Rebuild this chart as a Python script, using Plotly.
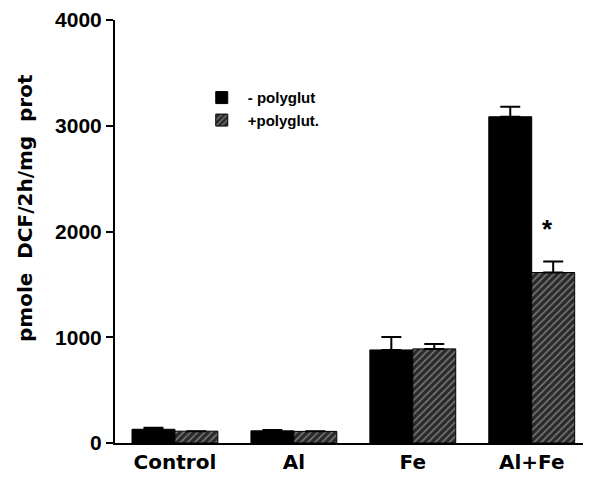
import plotly.graph_objects as go

categories = ["Control", "Al", "Fe", "Al+Fe"]
minus_poly = [130, 115, 880, 3085]
minus_poly_err = [15, 8, 122, 95]
plus_poly = [112, 110, 890, 1612]
plus_poly_err = [0, 0, 45, 105]
series_names = ["- polyglut", "+polyglut."]
y_ticks = [0, 1000, 2000, 3000, 4000]

fig = go.Figure()
fig.add_trace(go.Bar(
    x=categories, y=minus_poly, name=series_names[0],
    marker=dict(color="black", line=dict(color="black", width=1)),
    error_y=dict(type="data", symmetric=False, array=minus_poly_err,
                 arrayminus=[0] * 4, color="black", thickness=2, width=10),
))
fig.add_trace(go.Bar(
    x=categories, y=plus_poly, name=series_names[1],
    marker=dict(color="#3a3a3a", line=dict(color="black", width=1),
                pattern=dict(shape="/", fgcolor="#c8c8c8", bgcolor="#2a2a2a",
                             size=5, solidity=0.3)),
    error_y=dict(type="data", symmetric=False, array=plus_poly_err,
                 arrayminus=[0] * 4, color="black", thickness=2, width=10),
))

fig.add_annotation(x=3.13, y=2020, xref="x", yref="y", text="*", showarrow=False,
                   font=dict(family="Liberation Sans", size=26, color="black", weight="bold"))

# y-axis title placed as rotated annotation
fig.add_annotation(x=-0.19, y=0.555, xref="paper", yref="paper", xanchor="center", yanchor="middle",
                   text="pmole\u00a0\u00a0DCF/2h/mg\u00a0\u00a0prot", textangle=-90, showarrow=False,
                   font=dict(family="DejaVu Sans", size=20, color="black", weight="bold"))

# the page body adds an 8px offset, so the figure is sized to fit the window
fig.update_layout(
    width=583, height=472,
    margin=dict(l=107, r=1, t=12, b=37, autoexpand=False),
    paper_bgcolor="white", plot_bgcolor="white",
    barmode="group", bargap=0.278, bargroupgap=0,
    showlegend=True,
    legend=dict(x=0.17, y=0.855, xanchor="left", yanchor="top", itemwidth=42,
                font=dict(family="Liberation Sans", size=15, color="black", weight="bold"),
                bgcolor="rgba(0,0,0,0)", tracegroupgap=4),
    xaxis=dict(range=[-0.504, 3.49], showline=True, linecolor="black", linewidth=2,
               ticks="", showgrid=False, zeroline=False,
               tickfont=dict(family="DejaVu Sans", size=20, color="black", weight="bold")),
    yaxis=dict(range=[0, 4000], tickvals=y_ticks, showline=True, linecolor="black",
               linewidth=2, ticks="outside", ticklen=7, tickwidth=2, tickcolor="black",
               showgrid=False, zeroline=False,
               tickfont=dict(family="Liberation Sans", size=21, color="black", weight="bold")),
)

fig.write_html("out.html")
